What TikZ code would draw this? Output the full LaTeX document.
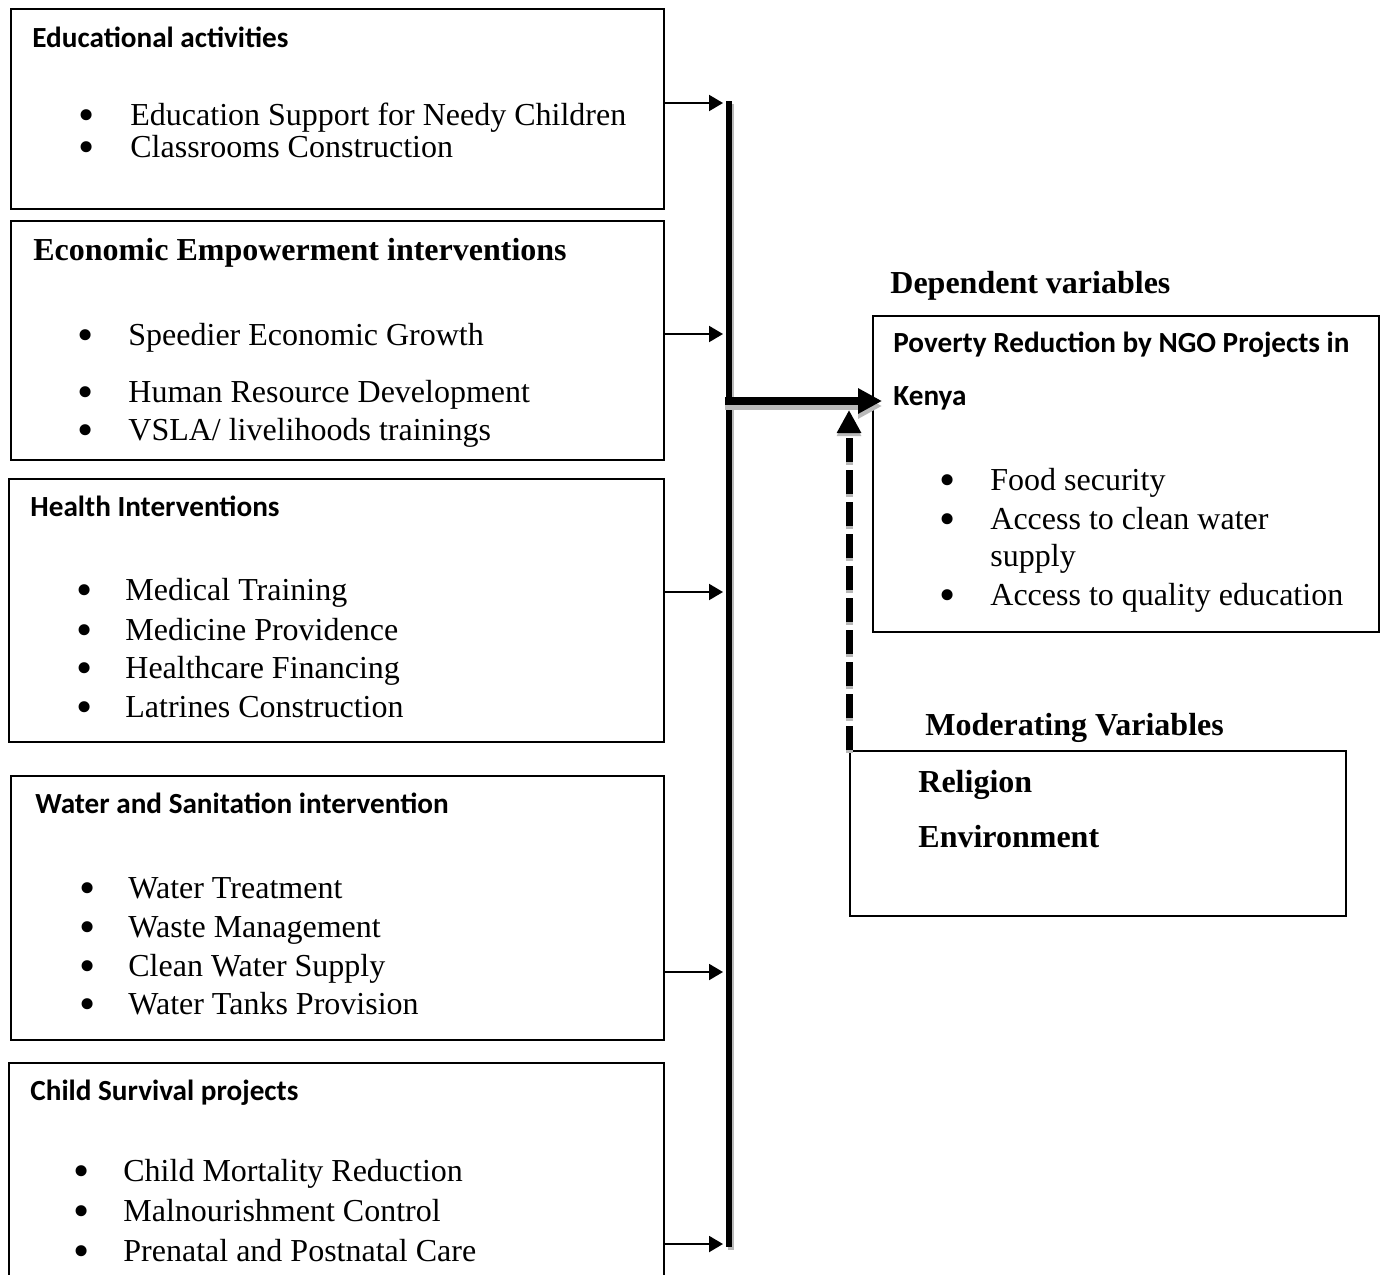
\documentclass[tikz,border=0pt]{standalone}
\usepackage{fontspec}
\setmainfont{Liberation Serif}
\newfontfamily\calibri{Carlito}
\usetikzlibrary{arrows.meta}

\tikzset{
  box/.style={draw, line width=1pt, anchor=north west, inner sep=0pt},
  head/.style={anchor=base west, inner sep=0pt, font=\calibri\bfseries\fontsize{14.6}{17}\selectfont},
  bhead/.style={anchor=base west, inner sep=0pt, font=\bfseries\fontsize{16}{19}\selectfont},
  item/.style={anchor=base west, inner sep=0pt, font=\fontsize{16}{19}\selectfont},
  dot/.style={anchor=base, inner sep=0pt, yshift=-2.7pt, font=\fontsize{11}{12}\selectfont, scale=2.1},
  arr/.style={-{Triangle[length=7pt,width=8pt]}, line width=1pt},
  shade/.style={gray!55},
}

\begin{document}
\begin{tikzpicture}[x=0.5pt,y=-0.5pt]
\useasboundingbox (0,0) rectangle (1384,1274);
\clip (0,0) rectangle (1384,1274);

\node[box, minimum width=326.5pt, minimum height=100pt] (edu) at (10,8) {};
\node[head] (eduh) at (32,47) {Educational activities};
\node[dot] (edu1d) at (87,125) {\textbullet};
\node[item] (edu1) at (130,125) {Education Support for Needy Children};
\node[dot] (edu2d) at (87,157) {\textbullet};
\node[item] (edu2) at (130,157) {Classrooms Construction};

\node[box, minimum width=326.5pt, minimum height=119.5pt] (eco) at (10,220) {};
\node[bhead] (ecoh) at (33,260) {Economic Empowerment interventions};
\node[dot] (eco1d) at (86,345) {\textbullet};
\node[item] (eco1) at (128,345) {Speedier Economic Growth};
\node[dot] (eco2d) at (86,402) {\textbullet};
\node[item] (eco2) at (128,402) {Human Resource Development};
\node[dot] (eco3d) at (86,440) {\textbullet};
\node[item] (eco3) at (128,440) {VSLA/ livelihoods trainings};

\node[box, minimum width=327.5pt, minimum height=131.5pt] (hea) at (8,478) {};
\node[head] (heah) at (30,516) {Health Interventions};
\node[dot] (hea1d) at (85,600) {\textbullet};
\node[item] (hea1) at (125,600) {Medical Training};
\node[dot] (hea2d) at (85,640) {\textbullet};
\node[item] (hea2) at (125,640) {Medicine Providence};
\node[dot] (hea3d) at (85,678) {\textbullet};
\node[item] (hea3) at (125,678) {Healthcare Financing};
\node[dot] (hea4d) at (85,717) {\textbullet};
\node[item] (hea4) at (125,717) {Latrines Construction};

\node[box, minimum width=326.5pt, minimum height=132pt] (wat) at (10,775) {};
\node[head] (wath) at (35,813) {Water and Sanitation intervention};
\node[dot] (wat1d) at (88,898) {\textbullet};
\node[item] (wat1) at (128,898) {Water Treatment};
\node[dot] (wat2d) at (88,937) {\textbullet};
\node[item] (wat2) at (128,937) {Waste Management};
\node[dot] (wat3d) at (88,976) {\textbullet};
\node[item] (wat3) at (128,976) {Clean Water Supply};
\node[dot] (wat4d) at (88,1014) {\textbullet};
\node[item] (wat4) at (128,1014) {Water Tanks Provision};

\node[box, minimum width=327.5pt, minimum height=130pt] (chi) at (8,1062) {};
\node[head] (chih) at (30,1100) {Child Survival projects};
\node[dot] (chi1d) at (82,1181) {\textbullet};
\node[item] (chi1) at (123,1181) {Child Mortality Reduction};
\node[dot] (chi2d) at (82,1221) {\textbullet};
\node[item] (chi2) at (123,1221) {Malnourishment Control};
\node[dot] (chi3d) at (82,1261) {\textbullet};
\node[item] (chi3) at (123,1261) {Prenatal and Postnatal Care};

\coordinate (bustop) at (729,101);
\coordinate (busbot) at (729,1247);
\draw[shade, line width=3pt] ([shift={(2,3)}]bustop) -- ([shift={(2,3)}]busbot);
\draw[line width=3pt] (bustop) -- (busbot);

\coordinate (b1) at (723,103);
\coordinate (b2) at (723,334);
\coordinate (b3) at (723,592);
\coordinate (b4) at (723,972);
\coordinate (b5) at (723,1244);
\draw[arr] (edu.east |- b1) -- (b1);
\draw[arr] (eco.east |- b2) -- (b2);
\draw[arr] (hea.east |- b3) -- (b3);
\draw[arr] (wat.east |- b4) -- (b4);
\draw[arr] (chi.east |- b5) -- (b5);

\node[bhead] (deph) at (890,293) {Dependent variables};
\node[box, minimum width=253pt, minimum height=158pt] (dep) at (872,315) {};
\node[head] (dept1) at (893,352) {Poverty Reduction by NGO Projects in};
\node[head] (dept2) at (893,405) {Kenya};
\node[dot] (dep1d) at (948,490) {\textbullet};
\node[item] (dep1) at (990,490) {Food security};
\node[dot] (dep2d) at (948,529) {\textbullet};
\node[item] (dep2) at (990,529) {Access to clean water};
\node[item] (dep2b) at (990,566) {supply};
\node[dot] (dep3d) at (948,605) {\textbullet};
\node[item] (dep3) at (990,605) {Access to quality education};

\node[bhead] (modh) at (925,735) {Moderating Variables};
\node[box, minimum width=248pt, minimum height=82.5pt] (mod) at (849,750) {};
\node[bhead] (mod1) at (918,792) {Religion};
\node[bhead] (mod2) at (918,847) {Environment};

\coordinate (hub) at (725,401);
\coordinate (deptip) at (882,401);
\draw[shade, line width=4pt, -{Triangle[length=12pt,width=12pt]}] ([shift={(0,5)}]hub) -- ([shift={(0,5)}]deptip);
\draw[line width=4pt, -{Triangle[length=12pt,width=12pt]}] (hub) -- (deptip);

\coordinate (modtip) at (849,410);
\draw[shade, line width=3.5pt, dash pattern=on 12pt off 4pt, -{Triangle[length=11.5pt,width=11.5pt]}] ([shift={(0,3)}]mod.north west) -- ([shift={(0,3)}]modtip);
\draw[line width=3.5pt, dash pattern=on 12pt off 4pt, -{Triangle[length=11.5pt,width=11.5pt]}] (mod.north west) -- (modtip);
\end{tikzpicture}
\end{document}
